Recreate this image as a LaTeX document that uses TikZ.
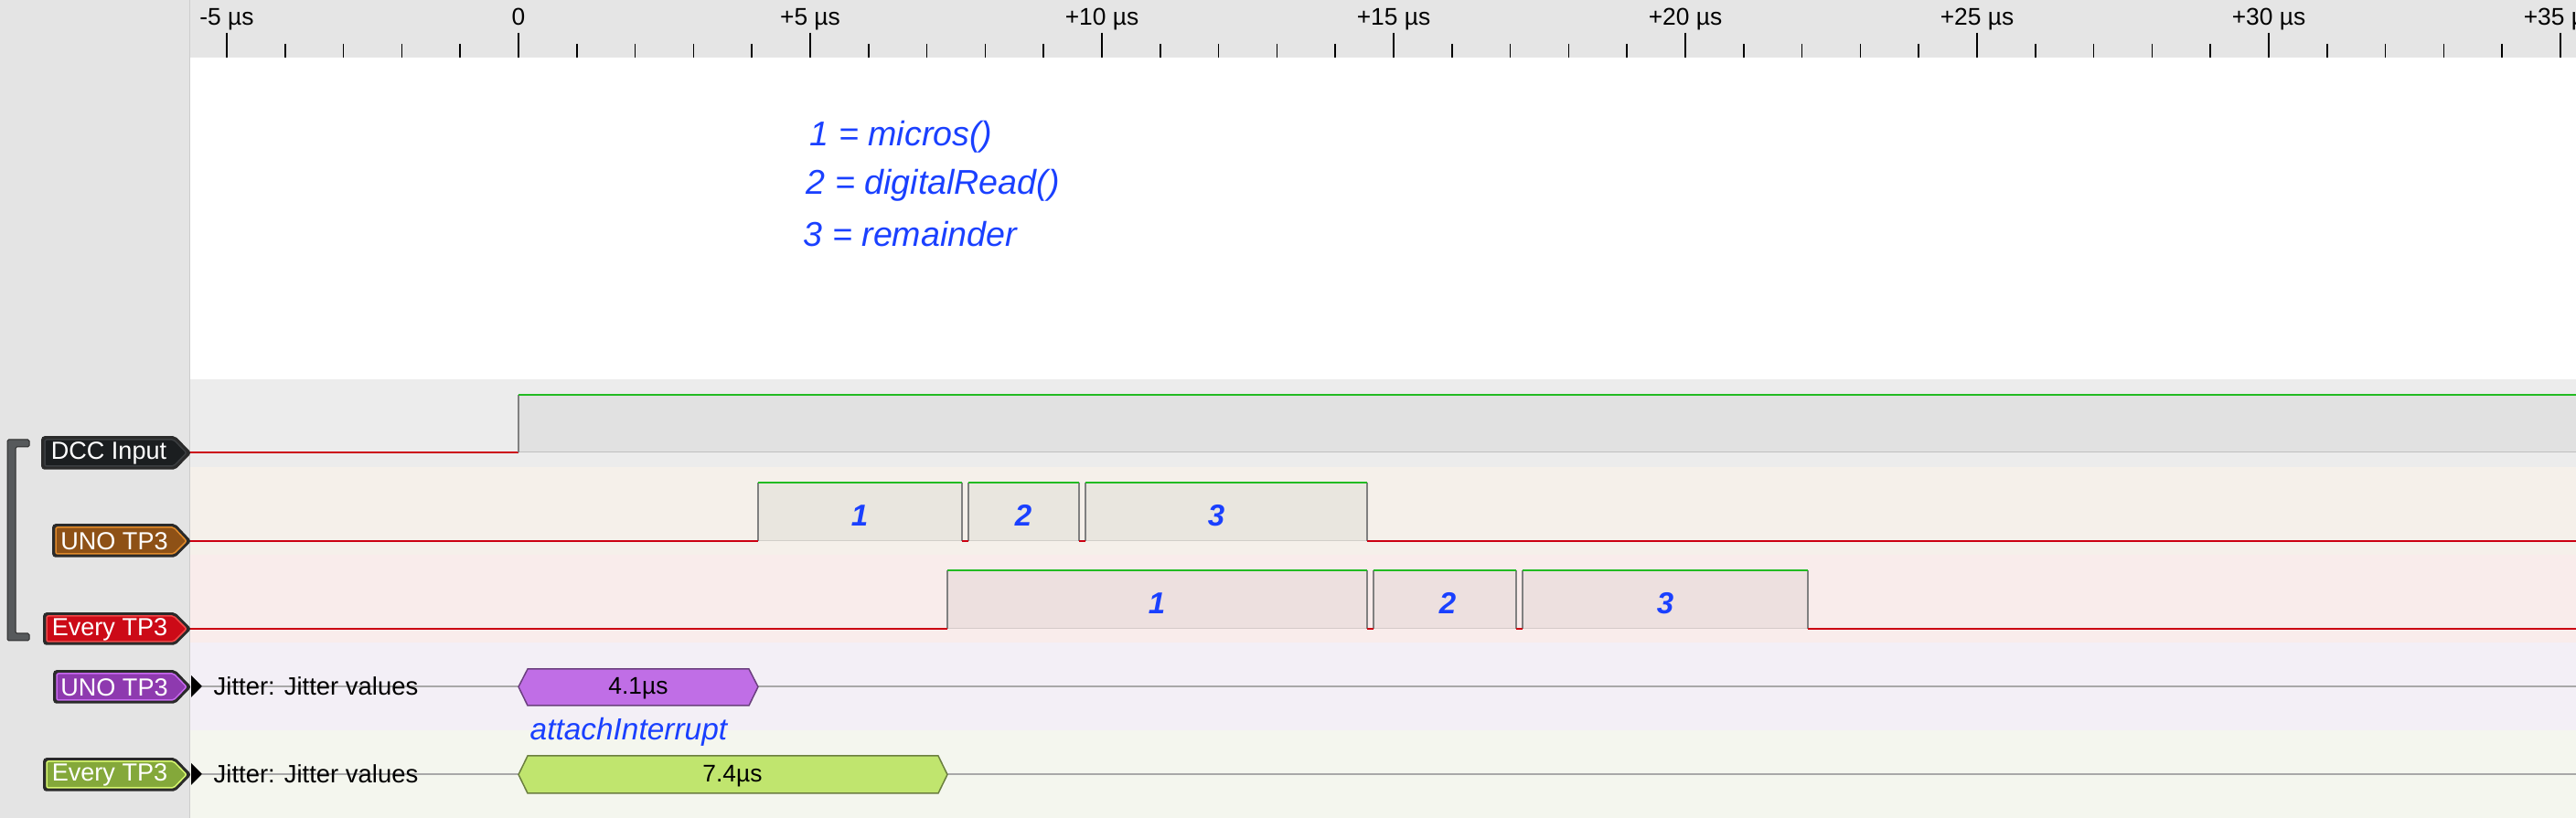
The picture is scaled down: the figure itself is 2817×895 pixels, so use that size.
\documentclass[tikz,border=0pt]{standalone}
\usepackage{fontspec}
\setmainfont{Liberation Sans}
\definecolor{panel}{HTML}{E4E4E4}
\definecolor{rulerbg}{HTML}{E5E5E5}
\definecolor{sepc}{HTML}{CDCDCD}
\definecolor{dccbg}{HTML}{ECECEC}
\definecolor{dcchi}{HTML}{E1E1E1}
\definecolor{unobg}{HTML}{F5F0EA}
\definecolor{unohi}{HTML}{E9E6DF}
\definecolor{evbg}{HTML}{F9ECEB}
\definecolor{evhi}{HTML}{EDE0DF}
\definecolor{jubg}{HTML}{F3EFF6}
\definecolor{jebg}{HTML}{F4F6EE}
\definecolor{lowc}{HTML}{CC0011}
\definecolor{highc}{HTML}{22BB22}
\definecolor{edgec}{HTML}{808080}
\definecolor{jitc}{HTML}{A8A8A8}
\definecolor{annotc}{HTML}{1A40FF}
\definecolor{hexpur}{HTML}{C06EE6}
\definecolor{hexpurb}{HTML}{6B3F7F}
\definecolor{hexgrn}{HTML}{C0E56E}
\definecolor{hexgrnb}{HTML}{6B7F3F}
\definecolor{tagdcc}{HTML}{1B1E20}
\definecolor{tagdccb}{HTML}{3A3D40}
\definecolor{taguno}{HTML}{8E5116}
\definecolor{tagunob}{HTML}{E08A2A}
\definecolor{tagev}{HTML}{CC0A17}
\definecolor{tagevb}{HTML}{F04848}
\definecolor{tagpur}{HTML}{8E3AAF}
\definecolor{tagpurb}{HTML}{C868F0}
\definecolor{taggrn}{HTML}{84A83A}
\definecolor{taggrnb}{HTML}{D8F870}
\definecolor{tagout}{HTML}{2A2A2A}
\definecolor{brackc}{HTML}{56595B}
\tikzset{
  lowln/.style={draw=lowc, line width=0.022cm},
  highln/.style={draw=highc, line width=0.022cm},
  edgeln/.style={draw=edgec, line width=0.022cm},
  baseln/.style={draw=#1, line width=0.01cm},
  jitln/.style={draw=jitc, line width=0.02cm},
  tickln/.style={draw=black, line width=0.016cm},
  tagbox/.style={fill=#1, draw=tagout, line width=0.035cm, rounded corners=0.02cm},
  taginner/.style={draw=#1, line width=0.015cm, rounded corners=0.02cm},
  tagtxt/.style={text=white, font=\fontsize{7.7}{9}\selectfont, inner sep=0pt},
  rulerlbl/.style={font=\fontsize{7.5}{9}\selectfont, anchor=base, inner sep=0pt},
  annot/.style={text=annotc, font=\fontsize{10.7}{12}\selectfont\itshape, anchor=base west, inner sep=0pt},
  pnum/.style={text=annotc, font=\fontsize{9.4}{11}\selectfont\bfseries\itshape, inner sep=0pt},
  jtxt/.style={font=\fontsize{7.8}{9}\selectfont, anchor=base west, inner sep=0pt},
  hexval/.style={font=\fontsize{7.5}{9}\selectfont, anchor=base, inner sep=0pt},
  hexbox/.style={fill=#1, line width=0.015cm},
}
\begin{document}
\begin{tikzpicture}[x=0.01cm, y=-0.01cm]
\useasboundingbox (0,0) rectangle (2817,895);
% backgrounds
\fill[panel] (0,0) rectangle (207,895);
\fill[rulerbg] (207,0) rectangle (2817,63);
\fill[white] (207,63) rectangle (2817,415);
\fill[dccbg] (207,415) rectangle (2817,511);
\fill[unobg] (207,511) rectangle (2817,607);
\fill[evbg] (207,607) rectangle (2817,703);
\fill[jubg] (207,703) rectangle (2817,799);
\fill[jebg] (207,799) rectangle (2817,895);
\draw[sepc, line width=0.01cm] (207.5,0) -- (207.5,895);

% ruler
\foreach \t in {-5,...,35} {
  \pgfmathsetmacro{\xx}{567+63.8*\t}
  \pgfmathtruncatemacro{\mm}{mod(\t+10,5)}
  \ifnum\mm=0
    \draw[tickln] (\xx,36) -- (\xx,63);
  \else
    \draw[tickln] (\xx,48) -- (\xx,63);
  \fi
}
\node[rulerlbl] (rm5) at (248,28) {-5 µs};
\node[rulerlbl] (r0) at (567,28) {0};
\node[rulerlbl] (r5) at (886,28) {+5 µs};
\node[rulerlbl] (r10) at (1205,28) {+10 µs};
\node[rulerlbl] (r15) at (1524,28) {+15 µs};
\node[rulerlbl] (r20) at (1843,28) {+20 µs};
\node[rulerlbl] (r25) at (2162,28) {+25 µs};
\node[rulerlbl] (r30) at (2481,28) {+30 µs};
\node[rulerlbl] (r35) at (2800,28) {+35 µs};

% annotations
\node[annot] (a1) at (885,160) {1 = micros()};
\node[annot] (a2) at (881,213) {2 = digitalRead()};
\node[annot] (a3) at (878,270) {3 = remainder};

% DCC input signal
\fill[dcchi] (567,432) rectangle (2817,495);
\draw[baseln=dcchi!85!black] (567,495) -- (2817,495);
\draw[lowln] (207,495) -- (567,495);
\draw[edgeln] (567,495) -- (567,432);
\draw[highln] (567,432) -- (2817,432);

% UNO TP3 signal
\foreach \a/\b in {829/1052, 1059/1180, 1187/1495} {
  \fill[unohi] (\a,528) rectangle (\b,592);
  \draw[baseln=unohi!90!black] (\a,592) -- (\b,592);
  \draw[edgeln] (\a,592) -- (\a,528);
  \draw[edgeln] (\b,528) -- (\b,592);
  \draw[highln] (\a,528) -- (\b,528);
}
\draw[lowln] (207,592) -- (829,592);
\draw[lowln] (1052,592) -- (1059,592);
\draw[lowln] (1180,592) -- (1187,592);
\draw[lowln] (1495,592) -- (2817,592);
\node[pnum] (u1) at (940,564) {1};
\node[pnum] (u2) at (1119,564) {2};
\node[pnum] (u3) at (1330,564) {3};

% Every TP3 signal
\foreach \a/\b in {1036/1495, 1502/1658, 1665/1977} {
  \fill[evhi] (\a,624) rectangle (\b,688);
  \draw[baseln=evhi!90!black] (\a,688) -- (\b,688);
  \draw[edgeln] (\a,688) -- (\a,624);
  \draw[edgeln] (\b,624) -- (\b,688);
  \draw[highln] (\a,624) -- (\b,624);
}
\draw[lowln] (207,688) -- (1036,688);
\draw[lowln] (1495,688) -- (1502,688);
\draw[lowln] (1658,688) -- (1665,688);
\draw[lowln] (1977,688) -- (2817,688);
\node[pnum] (e1) at (1265,660) {1};
\node[pnum] (e2) at (1583,660) {2};
\node[pnum] (e3) at (1821,660) {3};

% jitter rows
\draw[jitln] (221,751) -- (567,751);
\draw[jitln] (829,751) -- (2817,751);
\draw[jitln] (221,847) -- (567,847);
\draw[jitln] (1036,847) -- (2817,847);
\fill[black] (209,739) -- (221,751) -- (209,763) -- cycle;
\fill[black] (209,835) -- (221,847) -- (209,859) -- cycle;
\node[jtxt] (j1) at (233,761) {Jitter: Jitter values};
\node[jtxt] (j2) at (233,857) {Jitter: Jitter values};
\draw[hexbox=hexpur, draw=hexpurb] (567,751.5) -- (577,732) -- (819,732) -- (829,751.5) -- (819,772) -- (577,772) -- cycle;
\draw[hexbox=hexgrn, draw=hexgrnb] (567,847.5) -- (577,827) -- (1026,827) -- (1036,847.5) -- (1026,868) -- (577,868) -- cycle;
\node[hexval] (h1) at (698,760) {4.1µs};
\node[hexval] (h2) at (801,856) {7.4µs};
\node[annot, font=\fontsize{9.5}{11}\selectfont\itshape] (ai) at (579,810) {attachInterrupt};

% bracket
\fill[brackc, draw=tagout, line width=0.01cm, rounded corners=0.015cm]
  (8,481) -- (32,481) -- (32,489) -- (17,489) -- (17,693) -- (32,693) -- (32,701) -- (8,701) -- cycle;

% tags
\draw[tagbox=tagdcc] (47,479) -- (191,479) -- (207,495.5) -- (191,512) -- (47,512) -- cycle;
\draw[taginner=tagdccb] (49,481) -- (190,481) -- (204,495.5) -- (190,510) -- (49,510) -- cycle;
\node[tagtxt] (tdcc) at (119,496) {DCC Input};

\draw[tagbox=taguno] (59,575) -- (191,575) -- (207,592) -- (191,608) -- (59,608) -- cycle;
\draw[taginner=tagunob] (61,577) -- (190,577) -- (204,592) -- (190,606) -- (61,606) -- cycle;
\node[tagtxt] (tuno) at (125,592) {UNO TP3};

\draw[tagbox=tagev] (49,672) -- (191,672) -- (207,688) -- (191,704) -- (49,704) -- cycle;
\draw[taginner=tagevb] (51,674) -- (190,674) -- (204,688) -- (190,702) -- (51,702) -- cycle;
\node[tagtxt] (tev) at (120,688.5) {Every TP3};

\draw[tagbox=tagpur] (60,735) -- (191,735) -- (207,751.5) -- (191,768) -- (60,768) -- cycle;
\draw[taginner=tagpurb] (62,737) -- (190,737) -- (204,751.5) -- (190,766) -- (62,766) -- cycle;
\node[tagtxt] (tjpur) at (125,752) {UNO TP3};

\draw[tagbox=taggrn] (49,831) -- (191,831) -- (207,847.5) -- (191,864) -- (49,864) -- cycle;
\draw[taginner=taggrnb] (51,833) -- (190,833) -- (204,847.5) -- (190,862) -- (51,862) -- cycle;
\node[tagtxt] (tjgrn) at (120,848) {Every TP3};
\end{tikzpicture}
\end{document}
